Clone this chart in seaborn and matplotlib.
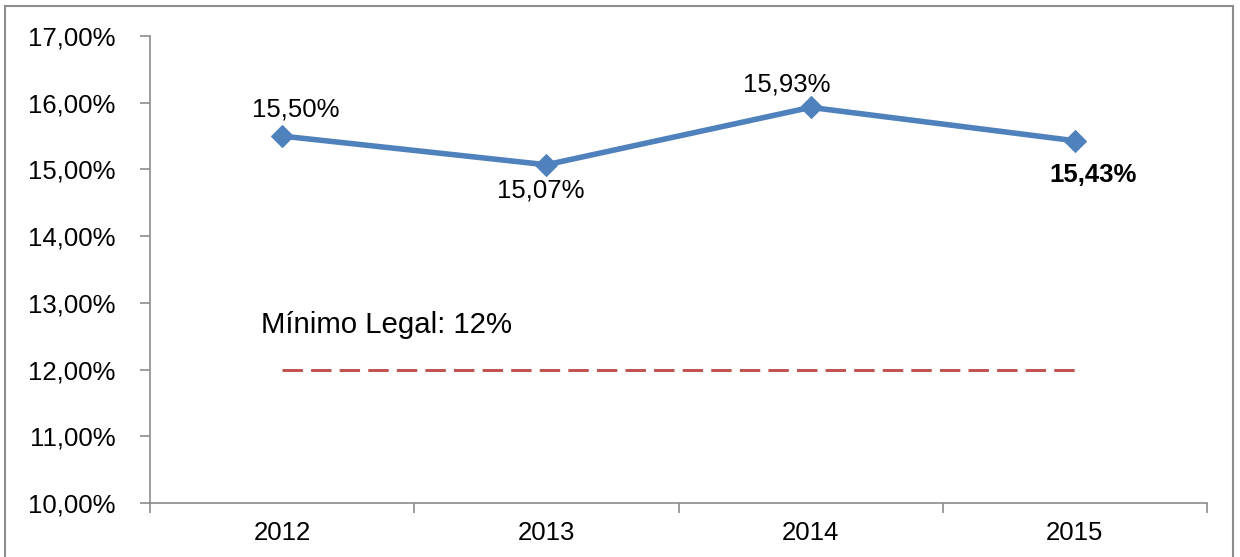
import seaborn as sns
import matplotlib.pyplot as plt
import pandas as pd
from matplotlib.patches import Rectangle
from matplotlib.ticker import FixedLocator, FuncFormatter

anos = ["2012", "2013", "2014", "2015"]
percentual = [15.50, 15.07, 15.93, 15.43]
rotulos = ["15,50%", "15,07%", "15,93%", "15,43%"]
minimo_legal = 12.0

df = pd.DataFrame({"ano": anos, "pct": percentual})

sns.set_theme(style="white")
plt.rcParams['font.family'] = ['Liberation Sans', 'DejaVu Sans']

fig = plt.figure(figsize=(12.4, 5.57), dpi=100)
ax = fig.add_axes([150/1240, (557-503)/557, (1207-150)/1240, (503-36)/557])

# moldura externa
fig.patches.append(Rectangle((5/1240, -0.05), (1233-5)/1240, (557-6)/557 + 0.05,
                             transform=fig.transFigure, fill=False,
                             edgecolor="#8c8c8c", linewidth=1.5))

sns.lineplot(data=df, x="ano", y="pct", ax=ax, color="#4F81BD", linewidth=4,
             marker="D", markersize=11, markeredgecolor="#4F81BD", sort=False)

ax.plot([0, 3], [minimo_legal, minimo_legal], color="#C0504D",
        linewidth=2.1, dashes=(7, 2.8))

ax.text(-0.08, 12.67, "Mínimo Legal: 12%", fontsize=21.2, ha="left", va="center",
        color="black")

offsets = [(0.05, 0.4), (-0.02, -0.38), (-0.09, 0.35), (0.07, -0.52)]
for i, (lab, (dx, dy)) in enumerate(zip(rotulos, offsets)):
    ax.text(i + dx, percentual[i] + dy, lab, fontsize=18.5, ha="center", va="center",
            fontweight="bold" if i == 3 else "normal", color="black")

ax.set_xlim(-0.5, 3.5)
ax.set_ylim(10, 17)
ax.set_yticks([10, 11, 12, 13, 14, 15, 16, 17])
ax.yaxis.set_major_formatter(FuncFormatter(lambda v, p: f"{v:.2f}%".replace(".", ",")))
ax.set_xticks(range(4))
ax.set_xticklabels(anos)
ax.xaxis.set_minor_locator(FixedLocator([-0.5, 0.5, 1.5, 2.5, 3.5]))
ax.tick_params(axis="x", which="major", length=0, pad=13, labelsize=18.5, colors="black")
ax.tick_params(axis="x", which="minor", length=7, width=1.2, color="#8c8c8c",
               direction="out", bottom=True)
ax.tick_params(axis="y", length=7, width=1.2, color="#8c8c8c", direction="out",
               left=True, labelsize=18.5, pad=18, labelcolor="black")
ax.set_xlabel("")
ax.set_ylabel("")

for s in ["top", "right"]:
    ax.spines[s].set_visible(False)
for s in ["left", "bottom"]:
    ax.spines[s].set_color("#8c8c8c")
    ax.spines[s].set_linewidth(1.2)

fig.savefig("out.png", dpi=100)
